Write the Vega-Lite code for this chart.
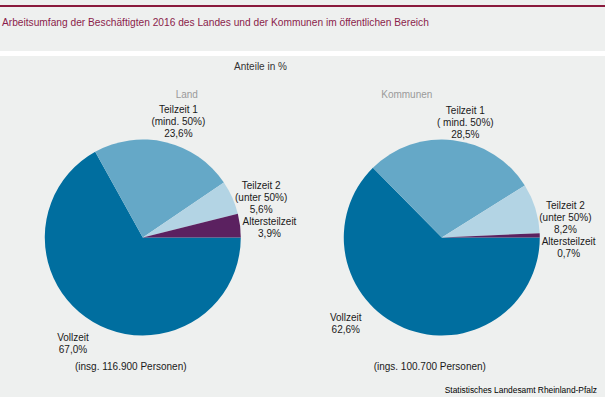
{
  "$schema": "https://vega.github.io/schema/vega-lite/v6.json",
  "background": "#eef0ef",
  "padding": {"left": 0, "right": 0, "top": 0, "bottom": 7},
  "spacing": 18,
  "config": {
    "view": {"stroke": null},
    "font": "Liberation Sans",
    "text": {"font": "Liberation Sans"},
    "title": {"font": "Liberation Sans", "fontWeight": "normal"}
  },
  "datasets": {
    "anteile": [
      {"Bereich": "Land", "Arbeitsumfang": "Vollzeit", "Nr": 1, "Anteil": 67.0, "Beschriftung": ["Vollzeit", "67,0%"]},
      {"Bereich": "Land", "Arbeitsumfang": "Teilzeit 1", "Nr": 2, "Anteil": 23.6, "Beschriftung": ["Teilzeit 1", "(mind. 50%)", "23,6%"]},
      {"Bereich": "Land", "Arbeitsumfang": "Teilzeit 2", "Nr": 3, "Anteil": 5.6, "Beschriftung": ["Teilzeit 2", "(unter 50%)", "5,6%"]},
      {"Bereich": "Land", "Arbeitsumfang": "Altersteilzeit", "Nr": 4, "Anteil": 3.9, "Beschriftung": ["Altersteilzeit", "3,9%"]},
      {"Bereich": "Kommunen", "Arbeitsumfang": "Vollzeit", "Nr": 1, "Anteil": 62.6, "Beschriftung": ["Vollzeit", "62,6%"]},
      {"Bereich": "Kommunen", "Arbeitsumfang": "Teilzeit 1", "Nr": 2, "Anteil": 28.5, "Beschriftung": ["Teilzeit 1", "( mind. 50%)", "28,5%"]},
      {"Bereich": "Kommunen", "Arbeitsumfang": "Teilzeit 2", "Nr": 3, "Anteil": 8.2, "Beschriftung": ["Teilzeit 2", "(unter 50%)", "8,2%"]},
      {"Bereich": "Kommunen", "Arbeitsumfang": "Altersteilzeit", "Nr": 4, "Anteil": 0.7, "Beschriftung": ["Altersteilzeit", "0,7%"]}
    ],
    "summen": [
      {"Bereich": "Land", "Hinweis": "(insg. 116.900 Personen)"},
      {"Bereich": "Kommunen", "Hinweis": "(ings. 100.700 Personen)"}
    ]
  },
  "vconcat": [
    {
      "width": 605,
      "height": 2,
      "view": {"fill": "#8a1a3c", "stroke": null},
      "title": {
        "text": "Arbeitsumfang der Beschäftigten 2016 des Landes und der Kommunen im öffentlichen Bereich",
        "orient": "bottom",
        "anchor": "start",
        "offset": 7,
        "dx": 2,
        "fontSize": 10.2,
        "color": "#8b1d4b"
      },
      "data": {"values": [{}]},
      "mark": {"type": "text"},
      "encoding": {"text": {"value": ""}}
    },
    {
      "spacing": 0,
      "vconcat": [
        {
          "width": 605,
          "height": 5,
          "view": {"fill": "#ffffff", "stroke": null},
          "title": {
            "text": "Anteile in %",
            "orient": "bottom",
            "anchor": "middle",
            "offset": 3,
            "dx": -42,
            "fontSize": 10,
            "color": "#333333"
          },
          "data": {"values": [{}]},
          "mark": {"type": "text"},
          "encoding": {"text": {"value": ""}}
        },
        {
          "width": 605,
          "height": 312,
          "title": {
            "text": "Statistisches Landesamt Rheinland-Pfalz",
            "orient": "bottom",
            "anchor": "end",
            "offset": 2,
            "dx": -8,
            "fontSize": 8.4,
            "color": "#000000"
          },
          "encoding": {
            "x": {
              "field": "Bereich",
              "type": "nominal",
              "axis": null,
              "scale": {"type": "point", "domain": ["Land", "Kommunen"], "padding": 0.5117, "align": 0.4666}
            }
          },
          "layer": [
            {
              "data": {"name": "anteile"},
              "transform": [
                {"stack": "Anteil", "groupby": ["Bereich"], "sort": [{"field": "Nr", "order": "ascending"}], "offset": "normalize", "as": ["Beginn", "Ende"]}
              ],
              "mark": {"type": "arc", "outerRadius": 98, "yOffset": 9.5},
              "encoding": {
                "theta": {"field": "Beginn", "type": "quantitative", "scale": {"domain": [0, 1], "range": [1.5708, 7.854]}},
                "theta2": {"field": "Ende"},
                "color": {
                  "field": "Arbeitsumfang",
                  "type": "nominal",
                  "legend": null,
                  "scale": {
                    "domain": ["Vollzeit", "Teilzeit 1", "Teilzeit 2", "Altersteilzeit"],
                    "range": ["#006e9f", "#65a8c7", "#b3d4e4", "#5b2160"]
                  }
                }
              }
            },
            {
              "data": {"name": "anteile"},
              "transform": [{"filter": "datum.Bereich === 'Land'"}],
              "mark": {"type": "text", "radius": 127, "thetaOffset": 0.05, "yOffset": 9.5, "dy": -6, "fontSize": 10, "lineHeight": 12, "align": "center", "baseline": "middle", "color": "#1a1a1a"},
              "encoding": {
                "theta": {"field": "Anteil", "type": "quantitative", "stack": "normalize", "scale": {"domain": [0, 1], "range": [1.5708, 7.854]}},
                "order": {"field": "Nr", "type": "quantitative"},
                "detail": {"field": "Arbeitsumfang", "type": "nominal"},
                "text": {"field": "Beschriftung"}
              }
            },
            {
              "data": {"name": "anteile"},
              "transform": [{"filter": "datum.Bereich === 'Kommunen'"}],
              "mark": {"type": "text", "radius": 127, "thetaOffset": 0.07, "yOffset": 9.5, "dy": -2, "fontSize": 10, "lineHeight": 12, "align": "center", "baseline": "middle", "color": "#1a1a1a"},
              "encoding": {
                "theta": {"field": "Anteil", "type": "quantitative", "stack": "normalize", "scale": {"domain": [0, 1], "range": [1.5708, 7.854]}},
                "order": {"field": "Nr", "type": "quantitative"},
                "detail": {"field": "Arbeitsumfang", "type": "nominal"},
                "text": {
                  "condition": {"test": "datum.Arbeitsumfang !== 'Vollzeit'", "field": "Beschriftung"},
                  "value": ""
                }
              }
            },
            {
              "data": {"name": "anteile"},
              "transform": [{"filter": "datum.Bereich === 'Kommunen'"}],
              "mark": {"type": "text", "radius": 125, "thetaOffset": 0.48, "yOffset": 9.5, "dy": 0, "fontSize": 10, "lineHeight": 12, "align": "center", "baseline": "middle", "color": "#1a1a1a"},
              "encoding": {
                "theta": {"field": "Anteil", "type": "quantitative", "stack": "normalize", "scale": {"domain": [0, 1], "range": [1.5708, 7.854]}},
                "order": {"field": "Nr", "type": "quantitative"},
                "detail": {"field": "Arbeitsumfang", "type": "nominal"},
                "text": {
                  "condition": {"test": "datum.Arbeitsumfang === 'Vollzeit'", "field": "Beschriftung"},
                  "value": ""
                }
              }
            },
            {
              "data": {"name": "summen"},
              "mark": {"type": "text", "fontSize": 10, "dx": -12, "dy": 139, "baseline": "middle", "color": "#1a1a1a"},
              "encoding": {"text": {"field": "Hinweis"}}
            },
            {
              "data": {"values": [{"Bereich": "Land"}]},
              "mark": {"type": "text", "fontSize": 10, "dx": 44, "dy": -133, "baseline": "middle", "color": "#9a9a9a"},
              "encoding": {"text": {"field": "Bereich"}}
            },
            {
              "data": {"values": [{"Bereich": "Kommunen"}]},
              "mark": {"type": "text", "fontSize": 10, "dx": -35, "dy": -133, "baseline": "middle", "color": "#9a9a9a"},
              "encoding": {"text": {"field": "Bereich"}}
            }
          ]
        }
      ]
    }
  ]
}
